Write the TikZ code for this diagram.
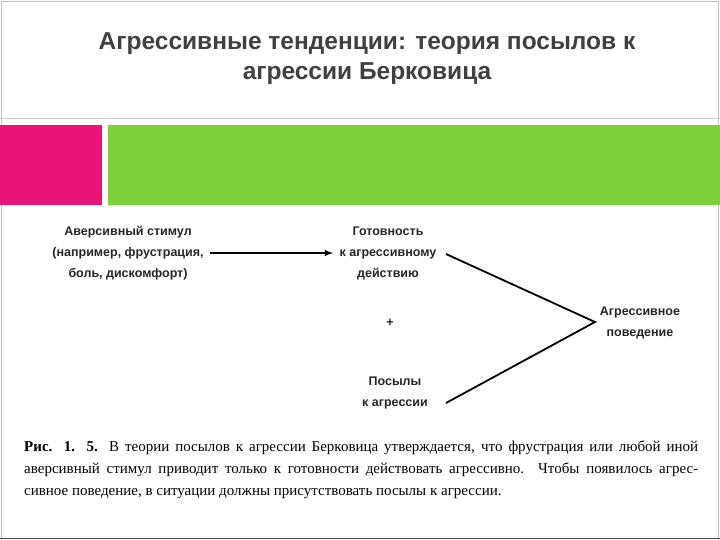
\documentclass[tikz,border=0pt]{standalone}
\usepackage{fontspec}
\setmainfont{Liberation Serif}
\newfontfamily\sans{Liberation Sans}
\definecolor{pinkc}{RGB}{232,20,120}
\definecolor{greenc}{RGB}{125,210,60}
\begin{document}
\begin{tikzpicture}[x=1pt,y=-1pt,
  lbl/.style={font=\sans\fontsize{12.5}{21}\selectfont\bfseries, align=center, inner sep=1pt, text=black!85},
  conn/.style={line width=1.8pt, black}]
\useasboundingbox (0,0) rectangle (720,540);
\fill[white] (0,0) rectangle (720,540);
\draw[black!25, line width=0.8pt] (1.5,1) rectangle (718.5,538);
\draw[black!70, line width=1.2pt] (0,538.5) -- (720,538.5);
\draw[black!20] (0,118) -- (720,118);
\node[font=\sans\fontsize{24.5}{30}\selectfont\bfseries, align=center, text=black!75] (title) at (367,59)
  {Агрессивные тенденции: теория посылов к\\агрессии Берковица};
\fill[pinkc] (0,125) rectangle (102,205);
\fill[greenc] (108,125) rectangle (720,205);
\node[lbl] (a) at (128,253) {Аверсивный стимул\\(например, фрустрация,\\боль, дискомфорт)};
\node[lbl] (g) at (388,253) {Готовность\\к агрессивному\\действию};
\node[lbl] (p) at (395,393) {Посылы\\к агрессии};
\node[lbl] (b) at (640,323) {Агрессивное\\поведение};
\node[lbl] (plus) at (390,323) {+};
\coordinate (gr) at (446,254);
\coordinate (pr) at (446,403);
\coordinate (v) at (595,322);
\draw[conn,-latex] (210,253) -- (333,253);
\draw[conn] (gr) -- (v) -- (pr);
\node[font=\fontsize{15}{22}\selectfont, text width=674pt, align=justify, inner sep=0pt, anchor=north west] (cap) at (24,441)
 {\textbf{Рис. 1. 5.} В теории посылов к агрессии Берковица утверждается, что фрустрация или любой иной аверсивный стимул приводит только к готовности действовать агрессивно. Чтобы появилось агрес-\linebreak сивное поведение, в ситуации должны присутствовать посылы к агрессии.};
\end{tikzpicture}
\end{document}
